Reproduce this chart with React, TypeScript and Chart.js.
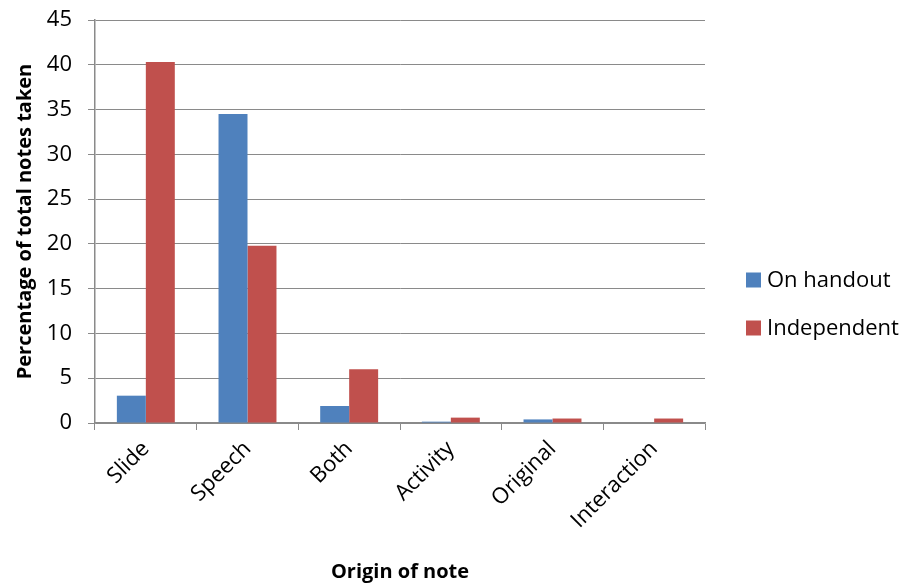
import React, { useEffect, useRef } from "react";
import { Chart, registerables } from "chart.js";

Chart.register(...registerables);

const categories = ["Slide", "Speech", "Both", "Activity", "Original", "Interaction"];
const seriesNames = ["On handout", "Independent"];
const onHandout = [3.05, 34.5, 1.9, 0.15, 0.4, 0];
const independent = [40.3, 19.8, 6.0, 0.6, 0.5, 0.5];
const yTicks = [0, 5, 10, 15, 20, 25, 30, 35, 40, 45];
const colors = ["#4f81bd", "#c0504d"];

const FONT = "'Open Sans', Lato, sans-serif";
const GRID = "#8a8a8a";

const legendPlugin = {
  id: "customLegend",
  afterDraw(chart: any) {
    const ctx = chart.ctx;
    const area = chart.chartArea;
    ctx.save();
    ctx.font = `22px ${FONT}`;
    ctx.textBaseline = "middle";
    ctx.textAlign = "left";
    chart.data.datasets.forEach((ds: any, i: number) => {
      const cy = 280 + i * 48;
      const x = area.right + 41;
      ctx.fillStyle = ds.backgroundColor;
      ctx.fillRect(x, cy - 7.5, 15, 15);
      ctx.fillStyle = "#000";
      ctx.fillText(ds.label, x + 21, cy + 1);
    });
    ctx.restore();
  },
};

export default function App() {
  const ref = useRef<HTMLCanvasElement | null>(null);
  useEffect(() => {
    if (!ref.current) return;
    const chart = new Chart(ref.current, {
      type: "bar",
      data: {
        labels: categories,
        datasets: [
          { label: seriesNames[0], data: onHandout, backgroundColor: colors[0], borderWidth: 0 },
          { label: seriesNames[1], data: independent, backgroundColor: colors[1], borderWidth: 0 },
        ],
      },
      plugins: [legendPlugin],
      options: {
        animation: false,
        responsive: false,
        maintainAspectRatio: false,
        layout: { padding: { left: 0, right: 207, top: 20, bottom: 0 } },
        datasets: { bar: { categoryPercentage: 0.57, barPercentage: 1 } },
        plugins: {
          legend: { display: false },
          tooltip: { enabled: false },
          title: { display: false },
        },
        scales: {
          x: {
            afterFit: (s: any) => { s.height = 162; s.paddingLeft = 0; s.paddingRight = 0; },
            grid: { display: true, drawOnChartArea: false, drawTicks: true, tickLength: 7, color: GRID, offset: true },
            border: { color: GRID, width: 1.5 },
            ticks: { font: { family: FONT, size: 22 }, color: "#000", minRotation: 45, maxRotation: 45, padding: 6 },
            title: { display: true, text: "Origin of note", font: { family: FONT, size: 20, weight: "bold" }, color: "#000", padding: { top: 0, bottom: 1 } },
          },
          y: {
            min: 0,
            max: 45,
            afterFit: (s: any) => { s.width = 95; s.paddingTop = 0; s.paddingBottom = 0; },
            afterBuildTicks: (s: any) => { s.ticks = yTicks.map((v) => ({ value: v })); },
            grid: { color: GRID, lineWidth: 1, tickLength: 7 },
            border: { color: GRID, width: 1.5 },
            ticks: { font: { family: FONT, size: 22 }, color: "#000", padding: 16 },
            title: { display: true, text: "Percentage of total notes taken", font: { family: FONT, size: 20, weight: "bold" }, color: "#000", padding: { top: 13, bottom: 0 } },
          },
        },
      },
    });
    return () => chart.destroy();
  }, []);
  return (
    <div style={{ position: "absolute", left: 0, top: 0, width: 912, height: 585, background: "#fff" }}>
      <canvas ref={ref} width={912} height={585} />
    </div>
  );
}
